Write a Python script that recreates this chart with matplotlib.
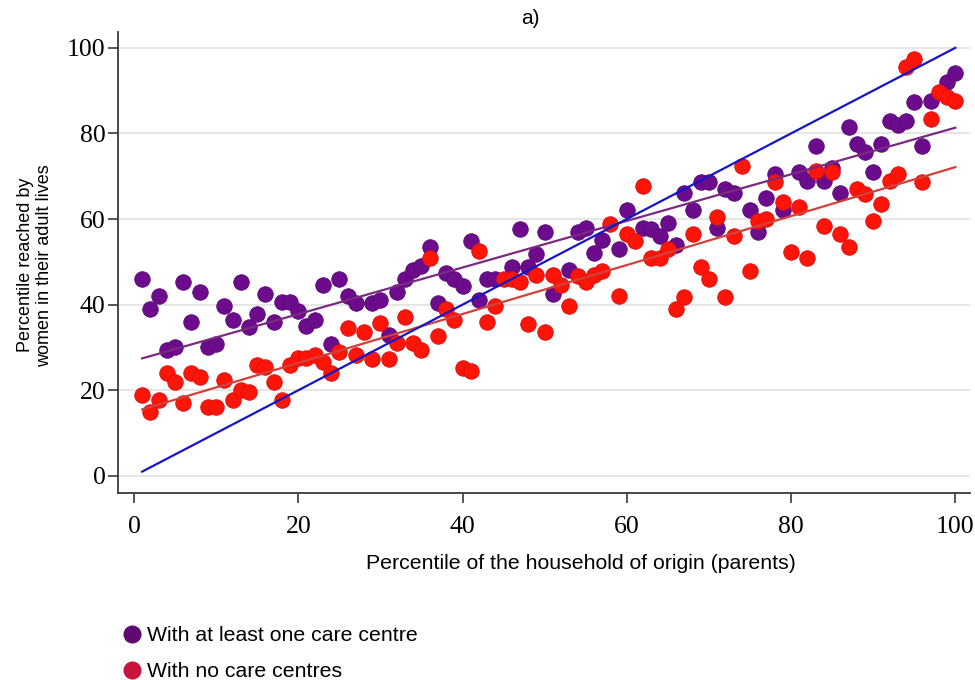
import numpy as np
import matplotlib
matplotlib.use("Agg")
import matplotlib.pyplot as plt
from matplotlib.lines import Line2D

# ---- data ----
purple_x = [1, 2, 3, 4, 5, 6, 7, 8, 9, 10, 11, 12, 13, 14, 15, 16, 17, 18, 19, 20,
            21, 22, 23, 24, 25, 26, 27, 29, 30, 31, 32, 33, 34, 35, 36, 37, 38, 39, 40,
            41, 42, 43, 44, 46, 47, 48, 49, 50, 51, 53, 54, 55, 56, 57, 59, 60, 62, 63,
            64, 65, 66, 67, 68, 69, 70, 71, 72, 73, 75, 76, 77, 78, 79, 81, 82, 83, 84,
            85, 86, 87, 88, 89, 90, 91, 92, 93, 94, 95, 96, 97, 99, 100]
purple_y = [46, 39, 42, 29.5, 30, 45.4, 36, 43, 30, 30.7, 39.6, 36.5, 45.4, 34.7, 37.7,
            42.4, 36, 40.7, 40.7, 38.4, 35, 36.5, 44.5, 30.7, 46, 42, 40.5, 40.5, 41.2, 33,
            43, 46, 48, 49, 53.4, 40.5, 47.5, 46, 44.3, 54.8, 41, 46, 46, 48.7, 57.6, 48.7,
            51.8, 57, 42.5, 48, 57, 58, 52, 55, 53, 62, 58, 57.6, 56, 59, 54, 66, 62, 68.6,
            68.6, 58, 67, 66, 62, 57, 65, 70.5, 62, 71, 69, 77, 69, 72, 66, 81.5, 77.5,
            75.6, 71, 77.5, 83, 82, 83, 87.4, 77, 87.6, 92, 94]

red_x = list(range(1, 101))
red_y = [19, 15, 17.8, 24, 22, 17, 24, 23, 16, 16.2, 22.5, 17.8, 20, 19.7, 26, 25.5, 22,
         17.8, 26, 27.6, 27.6, 28.3, 26.5, 24, 29, 34.6, 28.3, 33.5, 27.2, 35.8, 27.2, 31,
         37, 31, 29.5, 51, 32.6, 38.9, 36.5, 25.3, 24.4, 52.5, 36, 39.6, 45.9, 45.9, 45.4,
         35.4, 47, 33.5, 47, 44.7, 39.6, 46.6, 45.2, 47, 47.8, 58.8, 42, 56.4, 54.8, 67.7,
         51, 51, 53, 39, 41.7, 56.4, 48.7, 46, 60.4, 41.7, 56, 72.4, 47.8, 59.5, 60, 68.6,
         63.9, 52.2, 62.8, 51, 71.2, 58.3, 71, 56.4, 53.4, 67, 65.8, 59.5, 63.5, 68.9,
         70.5, 95.5, 97.4, 68.6, 83.4, 89.7, 88.5, 87.6]

# fitted lines as shown in the reference (intercept, slope)
fit_purple = [26.9, 0.5444]
fit_red = [14.95, 0.5717]
fit_x = [1, 100]

diag_x = [1, 100]
diag_y = [1, 100]

x_ticks = [0, 20, 40, 60, 80, 100]
y_ticks = [0, 20, 40, 60, 80, 100]

title = "a)"
xlabel = "Percentile of the household of origin (parents)"
ylabel = "Percentile reached by\nwomen in their adult lives"
legend_labels = ["With at least one care centre", "With no care centres"]

# ---- colours ----
c_purple = "#6c0c8c"
c_purple_edge = "#5a0a78"
c_red = "#ff1408"
c_red_edge = "#d81010"
c_purple_line = "#7a2a80"
c_red_line = "#d2403c"
c_blue = "#1515c8"
c_leg_purple = "#5e0a6e"
c_leg_red = "#c8143c"

fig = plt.figure(figsize=(9.75, 6.8), dpi=100)
ax = fig.add_axes([0.121, 0.275, 0.874, 0.678])

ax.scatter(purple_x, purple_y, s=125, color=c_purple, edgecolors=c_purple_edge,
           linewidths=0.6, zorder=3)
ax.scatter(red_x, red_y, s=125, color=c_red, edgecolors=c_red_edge,
           linewidths=0.6, zorder=4)

xl = np.array(fit_x, float)
ax.plot(xl, fit_purple[0] + fit_purple[1] * xl, color=c_purple_line, lw=1.6, zorder=5)
ax.plot(xl, fit_red[0] + fit_red[1] * xl, color=c_red_line, lw=1.6, zorder=5)
ax.plot(diag_x, diag_y, color=c_blue, lw=1.6, zorder=6)

ax.set_xlim(-1.95, 101.8)
ax.set_ylim(-4.0, 103.7)
ax.set_xticks(x_ticks)
ax.set_yticks(y_ticks)
ax.grid(axis="y", color="#e6e6e6", lw=1.4)
ax.set_axisbelow(True)
for s in ["top", "right"]:
    ax.spines[s].set_visible(False)
for s in ["left", "bottom"]:
    ax.spines[s].set_color("#3a3a3a")
    ax.spines[s].set_linewidth(1.3)
ax.tick_params(axis="both", direction="out", length=7.5, width=1.2, color="#3a3a3a",
               labelsize=18.5)
ax.tick_params(axis="x", pad=9)
ax.tick_params(axis="y", pad=1.5)
for lab in ax.get_xticklabels() + ax.get_yticklabels():
    lab.set_family("Liberation Serif")

fig.text(0.544, 0.973, title, ha="center", va="center", fontsize=15,
         family="Liberation Sans")
fig.text(0.596, 0.172, xlabel, ha="center", va="center", fontsize=15.3,
         family="Liberation Sans")
fig.text(0.036, 0.61, ylabel, ha="center", va="center", rotation=90,
         fontsize=13, family="Liberation Sans", linespacing=1.15)

handles = [Line2D([], [], marker="o", ls="", markersize=12, color=c_leg_purple),
           Line2D([], [], marker="o", ls="", markersize=12, color=c_leg_red)]
fig.legend(handles, legend_labels, loc="lower left", bbox_to_anchor=(0.103, -0.030),
           frameon=False, handletextpad=0.1, labelspacing=0.79,
           prop={"family": "Liberation Sans", "size": 15.3}, handlelength=1.2)

fig.savefig("out.png", dpi=100, facecolor="white")
